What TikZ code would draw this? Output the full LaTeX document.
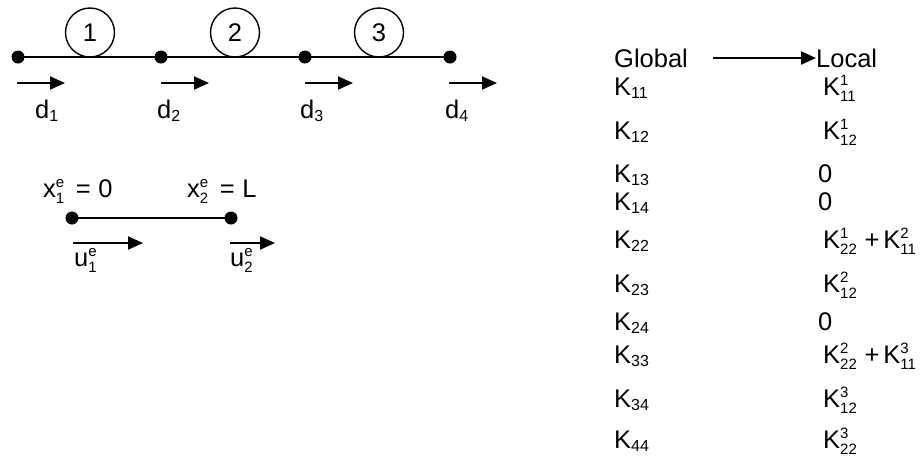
\documentclass[tikz,border=0pt]{standalone}
\usepackage{fontspec}
\setmainfont{Liberation Sans}
\usetikzlibrary{arrows.meta}
\newcommand{\ssx}[2]{\makebox[0pt][l]{\raisebox{0.36em}{\fontsize{15}{15}\selectfont #1}}\raisebox{-0.26em}{\fontsize{15}{15}\selectfont #2}}
\newcommand{\sbx}[1]{\raisebox{-0.12em}{\fontsize{16}{16}\selectfont #1}}
\newcommand{\eqx}{\hspace{0.45em}=\hspace{0.3em}}
\newcommand{\plx}{\hspace{0.3em}+\hspace{0.15em}}
\begin{document}
\begin{tikzpicture}[x=1pt,y=-1pt,
  every node/.style={inner sep=0pt, font=\fontsize{25.5}{30}\selectfont},
  txt/.style={anchor=base west},
  dot/.style={circle, fill=black, minimum size=13pt},
  elem/.style={circle, draw=black, line width=1.4pt, minimum size=49pt},
  bar/.style={line width=2pt},
  arr/.style={line width=2pt, -{Triangle[length=15pt,width=13pt]}}]
\useasboundingbox (0,0) rectangle (923,459);
% top mesh
\node[dot] (n1) at (18,57) {};
\node[dot] (n2) at (161,57) {};
\node[dot] (n3) at (305,57) {};
\node[dot] (n4) at (450,57) {};
\draw[bar] (n1.center) -- (n2.center) -- (n3.center) -- (n4.center);
\node[elem] (e1) at (90,32.5) {1};
\node[elem] (e2) at (235,32.5) {2};
\node[elem] (e3) at (379,32.5) {3};
% nodal arrows
\coordinate (d1s) at (17,83); \coordinate (d1e) at (65,83);
\coordinate (d2s) at (161,83); \coordinate (d2e) at (209,83);
\coordinate (d3s) at (305,83); \coordinate (d3e) at (353,83);
\coordinate (d4s) at (449,83); \coordinate (d4e) at (497,83);
\draw[arr] (d1s) -- (d1e);
\draw[arr] (d2s) -- (d2e);
\draw[arr] (d3s) -- (d3e);
\draw[arr] (d4s) -- (d4e);
\node[txt] (l1) at (35,118) {d\sbx{1}};
\node[txt] (l2) at (157,118) {d\sbx{2}};
\node[txt] (l3) at (300,118) {d\sbx{3}};
\node[txt] (l4) at (445,118) {d\sbx{4}};
% element
\node[txt] (x1) at (43,197) {x\ssx{e}{1}\eqx 0};
\node[txt] (x2) at (187,197) {x\ssx{e}{2}\eqx L};
\node[dot] (m1) at (72,218) {};
\node[dot] (m2) at (231,218) {};
\draw[bar] (m1.center) -- (m2.center);
\coordinate (u1s) at (73,243); \coordinate (u1e) at (143,243);
\coordinate (u2s) at (230,243); \coordinate (u2e) at (275,243);
\draw[arr] (u1s) -- (u1e);
\draw[arr] (u2s) -- (u2e);
\node[txt] (ul1) at (74,266) {u\ssx{e}{1}};
\node[txt] (ul2) at (230,266) {u\ssx{e}{2}};
% table
\node[txt] (gl) at (614,67) {Global};
\node[txt] (lo) at (816,67) {Local};
\coordinate (gs) at (713,58); \coordinate (ge) at (816,58);
\draw[arr] (gs) -- (ge);
\node[txt] (g11) at (614,95) {K\sbx{11}};
\node[txt] (g12) at (614,139) {K\sbx{12}};
\node[txt] (g13) at (614,182) {K\sbx{13}};
\node[txt] (g14) at (614,210) {K\sbx{14}};
\node[txt] (g22) at (614,248) {K\sbx{22}};
\node[txt] (g23) at (614,292) {K\sbx{23}};
\node[txt] (g24) at (614,330) {K\sbx{24}};
\node[txt] (g33) at (614,363) {K\sbx{33}};
\node[txt] (g34) at (614,407) {K\sbx{34}};
\node[txt] (g44) at (614,448) {K\sbx{44}};
\node[txt] (k11) at (823,95) {K\ssx{1}{11}};
\node[txt] (k12) at (823,139) {K\ssx{1}{12}};
\node[txt] (k13) at (818,182) {0};
\node[txt] (k14) at (818,210) {0};
\node[txt] (k22) at (823,248) {K\ssx{1}{22}\plx K\ssx{2}{11}};
\node[txt] (k23) at (823,292) {K\ssx{2}{12}};
\node[txt] (k24) at (818,330) {0};
\node[txt] (k33) at (823,363) {K\ssx{2}{22}\plx K\ssx{3}{11}};
\node[txt] (k34) at (823,407) {K\ssx{3}{12}};
\node[txt] (k44) at (823,448) {K\ssx{3}{22}};
\end{tikzpicture}
\end{document}
